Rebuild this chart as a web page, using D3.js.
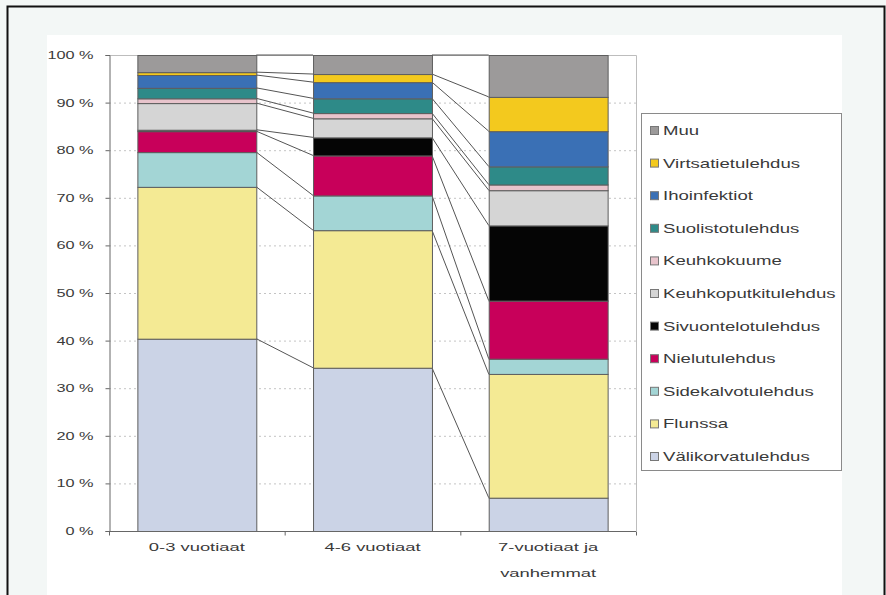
<!DOCTYPE html>
<html>
<head>
<meta charset="utf-8">
<script src="https://cdn.jsdelivr.net/npm/d3@7"></script>
<style>
  body { margin: 0; background: #f3f7f6; }
  text { font-family: "Liberation Sans", Arial, sans-serif; fill: #3a3a3a; }
</style>
</head>
<body>
<div class="chart-container"></div>
<script>
const WIDTH = 886;
const HEIGHT = 595;

// data, bottom to top of each bar
const categories = [["0-3 vuotiaat"], ["4-6 vuotiaat"], ["7-vuotiaat ja", "vanhemmat"]];
const seriesNames = ["Välikorvatulehdus", "Flunssa", "Sidekalvotulehdus", "Nielutulehdus",
  "Sivuontelotulehdus", "Keuhkoputkitulehdus", "Keuhkokuume", "Suolistotulehdus",
  "Ihoinfektiot", "Virtsatietulehdus", "Muu"];
const valikorva = [40.4, 34.3, 7.0];
const flunssa = [31.9, 28.9, 26.0];
const sidekalvo = [7.3, 7.3, 3.2];
const nielu = [4.4, 8.4, 12.2];
const sivuontelo = [0.3, 3.8, 15.8];
const keuhkoputki = [5.6, 4.0, 7.4];
const keuhkokuume = [1.0, 1.1, 1.2];
const suolisto = [2.2, 3.1, 3.8];
const iho = [2.7, 3.4, 7.4];
const virtsatie = [0.6, 1.7, 7.2];
const muu = [3.6, 4.0, 8.8];
const yTicks = [0, 10, 20, 30, 40, 50, 60, 70, 80, 90, 100];

const seriesValues = [valikorva, flunssa, sidekalvo, nielu, sivuontelo, keuhkoputki,
  keuhkokuume, suolisto, iho, virtsatie, muu];
const seriesColors = ["#cbd3e6", "#f4ea94", "#a3d5d5", "#c8005a", "#050505", "#d5d5d5",
  "#e8c4cc", "#2e8a88", "#3a70b5", "#f3c91e", "#9c9a9a"];

// the picture is stretched sideways, text too
const SX_AXIS = 1.48;
const SX_CAT = 1.6;
const SX_LEG = 1.55;

const plot = { left: 109, right: 636, top: 55, bottom: 531 };

const svg = d3.select(".chart-container")
  .append("svg")
  .attr("width", WIDTH)
  .attr("height", HEIGHT)
  .style("display", "block");

// outer frame + white panel
svg.append("rect").attr("width", WIDTH).attr("height", HEIGHT).attr("fill", "#f3f7f6");
svg.append("rect")
  .attr("x", 7.5).attr("y", 6.5).attr("width", 877).attr("height", 600)
  .attr("fill", "#f3f7f6").attr("stroke", "#111").attr("stroke-width", 2);
svg.append("rect")
  .attr("x", 47).attr("y", 35).attr("width", 795).attr("height", 570)
  .attr("fill", "#fff");

const keys = seriesNames.map((d, i) => i);
const table = categories.map((c, j) => {
  const row = { cat: c.join(" ") };
  keys.forEach((k) => { row[k] = seriesValues[k][j]; });
  return row;
});
const stacked = d3.stack().keys(keys)(table);

const x = d3.scaleBand()
  .domain(table.map((d) => d.cat))
  .range([plot.left, plot.right])
  .paddingInner(0.323)
  .paddingOuter(0.1615);

const y = d3.scaleLinear().domain([0, 100]).range([plot.bottom, plot.top]);

// gridlines
svg.append("g")
  .selectAll("line")
  .data(yTicks.slice(1, -1))
  .join("line")
  .attr("x1", plot.left).attr("x2", plot.right)
  .attr("y1", (d) => y(d) + 0.5).attr("y2", (d) => y(d) + 0.5)
  .attr("stroke", "#c4c4c4")
  .attr("stroke-dasharray", "2,3");

// plot area border top/right
svg.append("path")
  .attr("d", `M${plot.left},${plot.top + 0.5}H${plot.right + 0.5}V${plot.bottom}`)
  .attr("fill", "none")
  .attr("stroke", "#bdbdbd");

// series connector lines between bars
const connectors = [];
stacked.forEach((s) => {
  for (let j = 0; j < table.length - 1; j++) {
    connectors.push({
      x1: x(table[j].cat) + x.bandwidth(), y1: y(s[j][1]),
      x2: x(table[j + 1].cat), y2: y(s[j + 1][1]),
    });
  }
});
svg.append("g")
  .selectAll("line")
  .data(connectors)
  .join("line")
  .attr("x1", (d) => d.x1).attr("y1", (d) => d.y1)
  .attr("x2", (d) => d.x2).attr("y2", (d) => d.y2)
  .attr("stroke", "#555")
  .attr("stroke-width", 1);

// bars
svg.append("g")
  .selectAll("g")
  .data(stacked)
  .join("g")
  .attr("fill", (d) => seriesColors[d.key])
  .selectAll("rect")
  .data((d) => d)
  .join("rect")
  .attr("x", (d) => x(d.data.cat) + 0.5)
  .attr("y", (d) => y(d[1]) + 0.5)
  .attr("width", x.bandwidth())
  .attr("height", (d) => y(d[0]) - y(d[1]))
  .attr("stroke", "#5e5e5e")
  .attr("stroke-width", 1);

// y axis
const yAxis = svg.append("g")
  .attr("transform", `translate(${plot.left + 0.5},0)`)
  .call(d3.axisLeft(y).tickValues(yTicks).tickSize(4).tickPadding(6).tickFormat((d) => `${d} %`));
yAxis.select(".domain").attr("stroke", "#666");
yAxis.selectAll(".tick line").attr("stroke", "#666");
yAxis.selectAll(".tick text")
  .attr("font-size", "11px")
  .attr("x", null)
  .attr("transform", `translate(-16,0) scale(${SX_AXIS},1)`);

// x axis
const xAxis = svg.append("g")
  .attr("transform", `translate(0,${plot.bottom + 0.5})`);
xAxis.append("line")
  .attr("x1", plot.left).attr("x2", plot.right)
  .attr("stroke", "#666");
xAxis.selectAll("line.tk")
  .data([0, 1, 2, 3])
  .join("line")
  .attr("class", "tk")
  .attr("x1", (d) => plot.left + d * x.step() + 0.5)
  .attr("x2", (d) => plot.left + d * x.step() + 0.5)
  .attr("y1", 0).attr("y2", 4)
  .attr("stroke", "#666");

svg.append("g")
  .selectAll("text")
  .data(categories)
  .join("text")
  .attr("transform", (d, i) => `translate(${x(table[i].cat) + x.bandwidth() / 2},551) scale(${SX_CAT},1)`)
  .attr("text-anchor", "middle")
  .attr("font-size", "11.5px")
  .selectAll("tspan")
  .data((d) => d)
  .join("tspan")
  .attr("x", 0)
  .attr("dy", (d, i) => (i === 0 ? 0 : 26))
  .text((d) => d);

// legend
const legend = svg.append("g");
legend.append("rect")
  .attr("x", 641.5).attr("y", 113.5).attr("width", 200).attr("height", 357)
  .attr("fill", "#fff")
  .attr("stroke", "#8a8a8a");

const legendItems = legend.selectAll("g")
  .data(keys.slice().reverse())
  .join("g")
  .attr("transform", (d, i) => `translate(650,${131 + i * 32.6})`);

legendItems.append("rect")
  .attr("x", 0.5).attr("y", -4.5).attr("width", 8).attr("height", 8)
  .attr("fill", (d) => seriesColors[d])
  .attr("stroke", "#777");

legendItems.append("text")
  .attr("transform", `translate(13,4) scale(${SX_LEG},1)`)
  .attr("font-size", "12px")
  .text((d) => seriesNames[d]);
</script>
</body>
</html>
